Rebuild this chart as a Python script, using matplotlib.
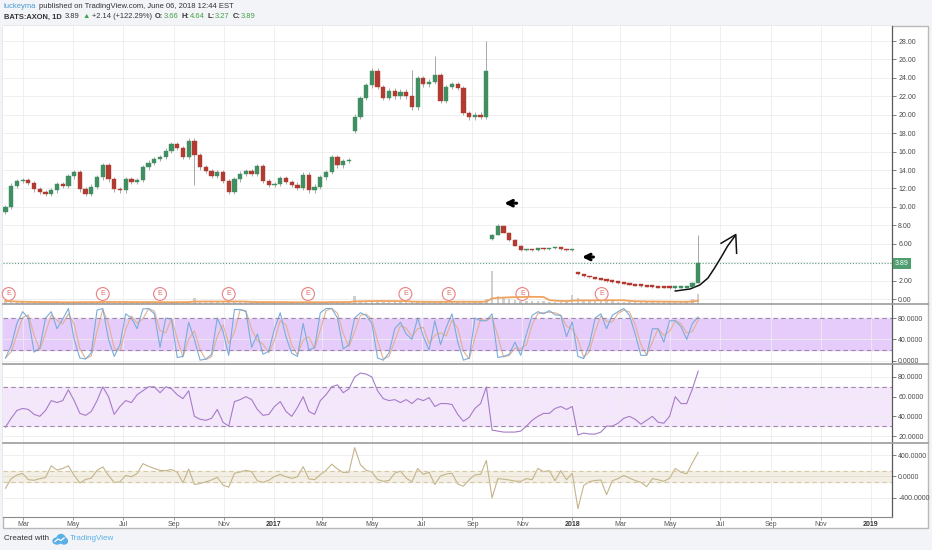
import matplotlib
matplotlib.use("Agg")
import matplotlib.pyplot as plt
import matplotlib.dates as mdates
import matplotlib.transforms as mtransforms
from matplotlib.lines import Line2D
from matplotlib.patches import Rectangle, Ellipse
import pandas as pd

plt.rcParams['font.family'] = ['Liberation Sans', 'DejaVu Sans']

# ---- values, one per week ----
first_week = '2016-02-08'
closes = [10.0, 12.3, 12.8, 12.9, 12.6, 11.9, 11.6, 11.4, 11.8, 12.5,
          12.3, 13.3, 13.8, 11.9, 11.4, 12.2, 13.2, 14.5, 13.0, 11.9,
          11.8, 13.0, 12.7, 12.9, 14.3, 14.8, 15.2, 15.4, 16.1, 16.8,
          16.4, 15.4, 17.2, 15.6, 14.3, 13.9, 13.4, 13.8, 12.8, 11.6,
          13.0, 13.6, 13.9, 13.6, 14.4, 12.8, 12.4, 12.5, 13.1, 12.7,
          12.4, 12.1, 13.5, 11.8, 12.2, 13.2, 13.8, 15.4, 14.5, 15.0,
          15.1, 19.8, 21.8, 23.2, 24.8, 23.0, 21.8, 22.6, 22.0, 22.5,
          22.0, 20.8, 24.0, 23.3, 23.6, 24.3, 21.5, 23.0, 23.3, 22.9,
          20.2, 19.7, 20.0, 19.8, 24.7, 7.0, 7.9, 7.2, 6.4, 5.8,
          5.3, 5.4, 5.3, 5.5, 5.4, 5.5, 5.6, 5.4, 5.3, 5.4,
          2.7, 2.45, 2.35, 2.2, 2.1, 1.95, 1.85, 1.75, 1.65, 1.55,
          1.45, 1.4, 1.35, 1.3, 1.25, 1.22, 1.2, 1.22, 1.25, 1.3,
          1.75, 3.89]
open_fix = {0: 9.4, 61: 18.2, 85: 6.5, 100: 2.85}
high_fix = {71: 24.9, 75: 26.4, 84: 28.0, 86: 8.1, 121: 6.9}
low_fix = {0: 9.2, 33: 12.4, 61: 18.0, 121: 1.7}
volume = [0.9, 0.7, 0.5, 0.5, 0.4, 0.5, 0.4, 0.4, 0.5, 0.6,
          0.5, 0.6, 0.7, 0.6, 0.5, 0.5, 0.6, 0.8, 0.6, 0.5,
          0.5, 0.5, 0.4, 0.5, 0.6, 0.5, 0.5, 0.5, 0.6, 0.6,
          0.5, 0.6, 0.7, 1.8, 0.8, 0.6, 0.5, 0.5, 0.5, 0.7,
          0.6, 0.5, 0.5, 0.5, 0.6, 0.6, 0.5, 0.4, 0.5, 0.5,
          0.5, 0.4, 0.6, 0.6, 0.5, 0.5, 0.6, 0.8, 0.6, 0.5,
          0.5, 2.2, 1.0, 0.9, 0.8, 0.7, 0.6, 0.6, 0.5, 0.5,
          0.6, 0.7, 0.8, 0.6, 0.6, 0.7, 0.7, 0.6, 0.6, 0.6,
          0.7, 0.6, 0.6, 0.7, 1.4, 9.5, 2.2, 1.6, 1.3, 1.1,
          1.0, 0.9, 0.8, 0.8, 0.8, 0.7, 0.7, 0.7, 0.8, 2.5,
          1.6, 1.0, 0.9, 0.8, 0.8, 0.9, 0.8, 0.7, 0.7, 0.7,
          0.7, 0.6, 0.6, 0.7, 0.7, 0.6, 0.7, 0.6, 0.6, 0.7,
          1.5, 3.0]
stoch_k = [5, 28, 70, 92, 80, 16, 24, 80, 92, 60,
           78, 98, 40, 5, 3, 15, 95, 98, 40, 8,
           30, 88, 80, 60, 97, 98, 88, 25, 80, 78,
           6, 8, 72, 40, 1, 3, 12, 80, 55, 10,
           96, 96, 92, 25, 50, 12, 18, 60, 90, 45,
           14, 8, 70, 20, 25, 90, 98, 98, 80, 22,
           30, 80, 90, 85, 70, 5, 1, 15, 60, 72,
           50, 40, 80, 45, 20, 75, 30, 63, 88, 35,
           1, 5, 80, 75, 75, 88, 6, 8, 12, 35,
           10, 50, 85, 92, 88, 94, 86, 85, 45, 73,
           8, 4, 30, 80, 88, 60, 85, 92, 98, 85,
           50, 10, 10, 60, 60, 35, 75, 75, 64, 40,
           70, 82]
rsi = [29, 38, 46, 48, 47, 42, 40, 46, 56, 54,
       56, 67, 56, 43, 41, 45, 56, 70, 60, 42,
       50, 56, 54, 62, 66, 70, 70, 64, 70, 68,
       62, 58, 66, 40, 37, 36, 38, 47, 34, 30,
       55, 57, 60, 57, 47, 41, 42, 50, 55, 45,
       40, 49, 60, 45, 42, 56, 62, 70, 72, 64,
       68, 80, 84, 83, 80, 66, 58, 56, 57, 54,
       57, 53, 58, 56, 59, 50, 53, 53, 52, 42,
       35, 39, 48, 53, 70, 26, 25, 24, 24, 24,
       25, 30, 36, 40, 43, 43, 48, 50, 47, 50,
       21, 23, 22, 22, 24, 30, 30, 33, 38, 40,
       37, 32, 36, 40, 34, 33, 40, 60, 53, 53,
       68, 86]
cci = [-220, -40, 28, 55, -60, -70, -40, -20, 200, 121,
       150, 200, 20, -120, -55, -30, 115, 180, 20, -110,
       -100, 20, -5, 55, 240, 190, 150, 115, 110, 130,
       80, -120, 140, -150, -130, -100, -65, -15, -160, -200,
       60, 85, 115, 90, -80, -110, -70, 0, 40, -5,
       -35, -5, 184, -45, -60, 35, 115, 230, 140, 75,
       80, 540, 220, 115, 85, -55, -90, -75, 60, 100,
       -30, -100, 150, 40, 80, -150, 10, 45, 60, -140,
       -180, -60, 30, 40, 300, -400, -40, -50, -65, -85,
       -90, -40, -60, 150, 90, 110, -80, 110, -60, 60,
       -600, -170, -95, -75, -65, -340, -80, -40, 20, -30,
       -75, -110, -190, -40, -60, -90, -35, 150, 80, 50,
       260, 450]
earnings = ['2016-02-12', '2016-06-06', '2016-08-15', '2016-11-07', '2017-02-12',
            '2017-06-11', '2017-08-03', '2017-11-01', '2018-02-06']
last_price = 3.89
price_ticks = list(range(0, 30, 2))
stoch_ticks = [0, 40, 80]
rsi_ticks = [20, 40, 60, 80]
cci_ticks = [-400, 0, 400]
month_ticks = pd.date_range('2016-03-01', '2019-01-01', freq='2MS')

# hand drawn marks on the chart (date, price)
left_arrows = [(('2017-10-25', 10.4), ('2017-10-10', 10.4)),
               (('2018-01-27', 4.56), ('2018-01-13', 4.56))]
swoosh = [('2018-05-07', 0.87), ('2018-05-25', 1.09), ('2018-06-06', 1.52),
          ('2018-06-16', 2.28), ('2018-06-24', 3.36), ('2018-07-03', 4.67),
          ('2018-07-10', 5.75), ('2018-07-19', 6.84)]
swoosh_head = [('2018-07-02', 6.05), ('2018-07-20', 7.0), ('2018-07-21', 4.96)]

W, H = 932, 550
UP, DOWN, WICK = '#3f8f62', '#b23b31', '#9a9a9a'
TXT = '#333333'
GREEN = '#43a047'

fig = plt.figure(figsize=(W / 100, H / 100), dpi=100, facecolor='#f2f4f7')


def px_box(left, top, right, bottom):
    return [left / W, 1 - bottom / H, (right - left) / W, (bottom - top) / H]


def hline(y, x0, x1, color, lw):
    fig.add_artist(Line2D([x0 / W, x1 / W], [1 - y / H, 1 - y / H],
                          transform=fig.transFigure, color=color, lw=lw))


fig.add_artist(Rectangle((3 / W, 1 - 528 / H), 925 / W, 502 / H, transform=fig.transFigure,
                         fc='white', ec='#b8b8b8', lw=1, zorder=-5))

ax_p = fig.add_axes(px_box(3, 26, 892, 304))
ax_s = fig.add_axes(px_box(3, 304, 892, 364), sharex=ax_p)
ax_r = fig.add_axes(px_box(3, 364, 892, 443), sharex=ax_p)
ax_c = fig.add_axes(px_box(3, 443, 892, 517), sharex=ax_p)

dates = pd.date_range(first_week, periods=len(closes), freq='7D').to_pydatetime()
n = len(closes)
opens = [open_fix.get(i, closes[i - 1] if i else closes[0]) for i in range(n)]
highs, lows, cols, bodies = [], [], [], []
for i in range(n):
    o, c = opens[i], closes[i]
    pad = 0.25 if c > 8 else 0.07
    highs.append(high_fix.get(i, max(o, c) + pad))
    lows.append(low_fix.get(i, min(o, c) - pad))
    cols.append(UP if c >= o else DOWN)
    bodies.append(max(abs(c - o), 0.1 if c > 8 else 0.18))

# candles
ax_p.vlines(dates, lows, highs, color=WICK, lw=0.6, zorder=2)
ax_p.bar(dates, bodies, bottom=[min(o, c) for o, c in zip(opens, closes)], width=5.2,
         color=cols, edgecolor=cols, lw=0.3, zorder=3)

# volume at the foot of the price pane
ax_v = ax_p.twinx()
ax_v.set_ylim(0, 80)
ax_v.axis('off')
ax_v.bar(dates, volume, width=3.0, color='#c4c4c4', alpha=0.8)
ax_v.plot(dates, pd.Series(volume).rolling(10, min_periods=1).mean(), color='#f0a35e', lw=1.3)

# last price line and label
ax_p.axhline(last_price, color='#5e9e7e', ls=(0, (1, 1.6)), lw=0.8, zorder=1)
blend_r = mtransforms.blended_transform_factory(ax_p.transAxes, ax_p.transData)
ax_p.text(1.003, last_price, '%.2f' % last_price, transform=blend_r, ha='left', va='center',
          fontsize=5, color='white', clip_on=False,
          bbox=dict(boxstyle='square,pad=0.3', fc='#4e9e70', ec='none'))

# earnings markers
blend_e = mtransforms.blended_transform_factory(ax_p.transData, ax_p.transAxes)
for d in earnings:
    ax_p.text(mdates.date2num(pd.Timestamp(d)), 0.036, 'E', transform=blend_e, ha='center',
              va='center', fontsize=5, color='#e06a6a', zorder=6,
              bbox=dict(boxstyle='circle,pad=0.42', fc='white', ec='#e88080', lw=0.8))

# hand drawn arrows
for (d0, p0), (d1, p1) in left_arrows:
    ax_p.annotate('', xy=(mdates.date2num(pd.Timestamp(d1)), p1),
                  xytext=(mdates.date2num(pd.Timestamp(d0)), p0),
                  arrowprops=dict(arrowstyle='->', lw=2.2, color='black',
                                  mutation_scale=10, shrinkA=0, shrinkB=0))
ax_p.plot([pd.Timestamp(d) for d, _ in swoosh], [p for _, p in swoosh], color='#111111', lw=1.1)
ax_p.plot([pd.Timestamp(d) for d, _ in swoosh_head], [p for _, p in swoosh_head],
          color='#111111', lw=1.1)

# stochastic
k = pd.Series(stoch_k)
ax_s.axhspan(20, 80, color='#e6ccfa', zorder=0)
ax_s.plot(dates, k.rolling(2, min_periods=1).mean(), color='#e3b08f', lw=0.8)
ax_s.plot(dates, k, color='#79addb', lw=0.8)

# rsi
ax_r.axhspan(30, 70, color='#f4e7fc', zorder=0)
ax_r.plot(dates, rsi, color='#a77bc9', lw=0.8)

# cci
ax_c.axhspan(-100, 100, color='#f3efe4', zorder=0)
ax_c.axhline(0, color='#e6ddc8', lw=0.6)
ax_c.plot(dates, cci, color='#c4b48a', lw=0.8)

for ax, lo, hi in [(ax_s, 20, 80), (ax_r, 30, 70)]:
    for v in (lo, hi):
        ax.axhline(v, color='#9a8aa8', ls=(0, (4, 3)), lw=0.8)
for v in (-100, 100):
    ax_c.axhline(v, color='#d6c7a6', ls=(0, (4, 3)), lw=0.8)

# axes styling
setup = [(ax_p, (-0.54, 29.63), price_ticks, '%.2f'),
         (ax_s, (-6.2, 106.4), stoch_ticks, '%.4f'),
         (ax_r, (12.9, 93.2), rsi_ticks, '%.4f'),
         (ax_c, (-757, 626), cci_ticks, '%.4f')]
for ax, ylim, ticks, fmt in setup:
    ax.set_ylim(*ylim)
    ax.yaxis.tick_right()
    ax.set_yticks(ticks)
    ax.set_yticklabels(['' if (ax is ax_p and t == 4) else fmt % t for t in ticks])
    for s in ('top', 'left', 'bottom'):
        ax.spines[s].set_visible(False)
    ax.spines['right'].set_color('#5a5a5a')
    ax.spines['right'].set_linewidth(0.9)
    ax.tick_params(axis='y', labelsize=5, labelcolor='#4a4a4a', color='#6a6a6a',
                   length=3, width=0.6, pad=1.5)
    ax.grid(True, color='#ededed', lw=0.6)
    ax.set_axisbelow(True)
    if ax is not ax_c:
        ax.tick_params(axis='x', labelbottom=False, length=0)

ax_p.set_xlim(pd.Timestamp('2016-02-05'), pd.Timestamp('2019-01-27'))
ax_c.set_xticks(month_ticks)
ax_c.set_xticklabels([str(d.year) if d.month == 1 else d.strftime('%b') for d in month_ticks])
ax_c.spines['bottom'].set_visible(True)
ax_c.spines['bottom'].set_color('#8a8a8a')
ax_c.tick_params(axis='x', labelsize=5, labelcolor='#555555', color='#8a8a8a',
                 length=2, width=0.6, pad=1.2)
for lab, d in zip(ax_c.get_xticklabels(), month_ticks):
    if d.month == 1:
        lab.set_fontweight('bold')
        lab.set_color('#333333')

# pane separators
for y in (304, 364, 443):
    hline(y, 3, 928, '#9c9c9c', 1.2)

# header and footer
renderer = fig.canvas.get_renderer()


def write_run(x, y, pieces, size):
    for txt, color, weight, gap in pieces:
        t = fig.text(x / W, 1 - y / H, txt, fontsize=size, color=color,
                     fontweight=weight, ha='left', va='center')
        x += t.get_window_extent(renderer).width + gap


write_run(4, 7, [('luckeyma', '#4a9bd6', 'normal', 2.2),
                 ('published on TradingView.com, June 06, 2018 12:44 EST', TXT, 'normal', 0)], 5.5)
write_run(4, 17, [('BATS:AXON, 1D', TXT, 'bold', 3),
                  ('3.89', TXT, 'normal', 3),
                  ('\u25b2', GREEN, 'normal', 2),
                  ('+2.14 (+122.29%)', TXT, 'normal', 3),
                  ('O:', TXT, 'bold', 0.4), ('3.66', GREEN, 'normal', 3),
                  ('H:', TXT, 'bold', 0.4), ('4.64', GREEN, 'normal', 3),
                  ('L:', TXT, 'bold', 0.4), ('3.27', GREEN, 'normal', 3),
                  ('C:', TXT, 'bold', 0.4), ('3.89', GREEN, 'normal', 0)], 5.4)

write_run(4, 539, [('Created with', TXT, 'normal', 0)], 5.8)
logo = fig.add_axes(px_box(52, 533, 68, 545))
logo.set_xlim(0, 16)
logo.set_ylim(0, 12)
logo.axis('off')
for cx, cy, w, h in [(5, 4, 8, 6), (9, 6.5, 8, 8), (12, 4, 7, 6)]:
    logo.add_patch(Ellipse((cx, cy), w, h, color='#5ab0e6'))
logo.plot([3, 6, 9, 12], [3.5, 6, 4.5, 7], color='white', lw=0.9)
write_run(70, 539, [('TradingView', '#5ab0e6', 'normal', 0)], 5.8)

fig.savefig('out.png', dpi=100, facecolor=fig.get_facecolor())
